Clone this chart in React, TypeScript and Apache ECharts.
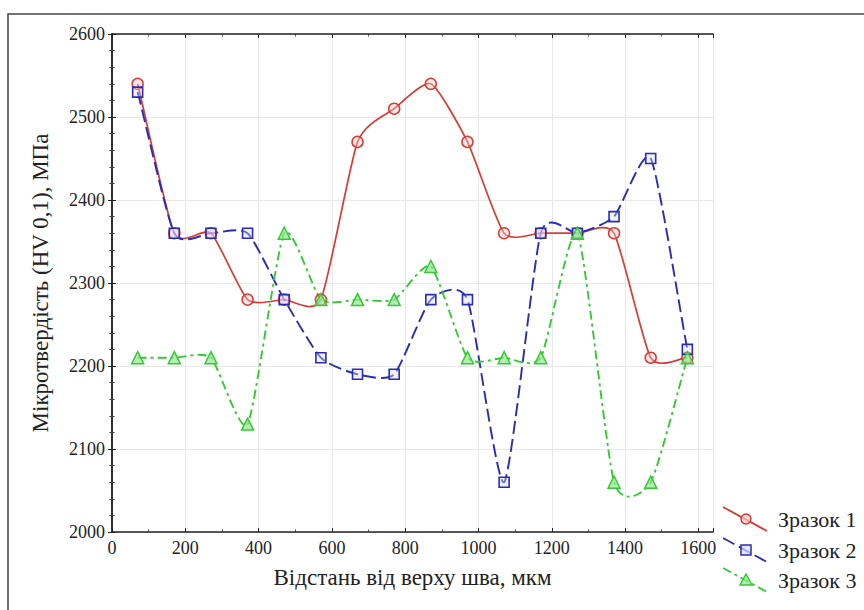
import React, { useEffect, useRef } from "react";
import * as echarts from "echarts";

const distances = [70, 170, 270, 370, 470, 570, 670, 770, 870, 970, 1070, 1170, 1270, 1370, 1470, 1570];
const sample1 = [2540, 2360, 2360, 2280, 2280, 2280, 2470, 2510, 2540, 2470, 2360, 2360, 2360, 2360, 2210, 2210];
const sample2 = [2530, 2360, 2360, 2360, 2280, 2210, 2190, 2190, 2280, 2280, 2060, 2360, 2360, 2380, 2450, 2220];
const sample3 = [2210, 2210, 2210, 2130, 2360, 2280, 2280, 2280, 2320, 2210, 2210, 2210, 2360, 2060, 2060, 2210];
const seriesNames = ["Зразок 1", "Зразок 2", "Зразок 3"];

const RED = "#d63c36";
const BLUE = "#2a2eae";
const GREEN = "#36c836";
const FONT = "'Liberation Serif', 'Times New Roman', serif";
const TENSION = 0.6;

function splineRenderer(ys: number[], stroke: string, width: number, dash: number[] | null) {
  return (params: any, api: any) => {
    if (params.dataIndex !== 0) return { type: "group", children: [] };
    const pts = distances.map((x, i) => api.coord([x, ys[i]]));
    const n = pts.length;
    const tang = pts.map((p, i) => {
      const a = pts[Math.max(0, i - 1)];
      const b = pts[Math.min(n - 1, i + 1)];
      const f = i === 0 || i === n - 1 ? 1 : 0.5;
      return [(b[0] - a[0]) * f * TENSION, (b[1] - a[1]) * f * TENSION];
    });
    let d = `M${pts[0][0]},${pts[0][1]}`;
    for (let i = 0; i < n - 1; i++) {
      const p0 = pts[i], p1 = pts[i + 1];
      const c1 = [p0[0] + tang[i][0] / 3, p0[1] + tang[i][1] / 3];
      const c2 = [p1[0] - tang[i + 1][0] / 3, p1[1] - tang[i + 1][1] / 3];
      d += ` C${c1[0]},${c1[1]} ${c2[0]},${c2[1]} ${p1[0]},${p1[1]}`;
    }
    return {
      type: "path",
      shape: { pathData: d },
      style: { stroke, fill: "none", lineWidth: width, lineDash: dash || undefined },
      silent: true,
    };
  };
}

export default function App() {
  const ref = useRef<HTMLDivElement>(null);
  useEffect(() => {
    if (!ref.current) return;
    const chart = echarts.init(ref.current, undefined, { renderer: "svg" });
    const pair = (ys: number[]) => distances.map((x, i) => [x, ys[i]]);
    const axisCommon = {
      axisLine: { show: true, lineStyle: { color: "#222", width: 1.5 } },
      axisTick: { show: true, inside: true, length: 4, lineStyle: { color: "#222" } },
      minorTick: { show: true, length: 2.5, lineStyle: { color: "#444" } },
    };
    const legendY = [519, 550, 580];
    const legendGraphics: any[] = [];
    const colors = [RED, BLUE, GREEN];
    const dashes: any[] = [null, [13, 5], [9, 4, 3, 4]];
    for (let i = 0; i < 3; i++) {
      const cy = legendY[i];
      legendGraphics.push({
        type: "line",
        shape: { x1: 723, y1: cy - 12, x2: 767, y2: cy + 12 },
        style: { stroke: colors[i], lineWidth: 1.8, lineDash: dashes[i] || undefined },
        z: 10,
      });
      const mx = 746, my = cy;
      if (i === 0) {
        legendGraphics.push({ type: "circle", shape: { cx: mx, cy: my, r: 5 }, style: { fill: "rgba(255,200,200,0.7)", stroke: RED, lineWidth: 1.5 }, z: 11 });
      } else if (i === 1) {
        legendGraphics.push({ type: "rect", shape: { x: mx - 5, y: my - 5, width: 10, height: 10 }, style: { fill: "rgba(220,220,255,0.7)", stroke: BLUE, lineWidth: 1.5 }, z: 11 });
      } else {
        legendGraphics.push({ type: "polygon", shape: { points: [[mx, my - 6], [mx + 6, my + 5], [mx - 6, my + 5]] }, style: { fill: "rgba(150,230,150,0.8)", stroke: GREEN, lineWidth: 1.5 }, z: 11 });
      }
      legendGraphics.push({
        type: "text",
        x: 778,
        y: cy,
        style: { text: seriesNames[i], fontFamily: FONT, fontSize: 22, fill: "#222", verticalAlign: "middle", align: "left" },
        z: 11,
      });
    }
    const labelStyle = { fontFamily: FONT, fontSize: 18, color: "#222", formatter: (v: number) => String(v) };
    chart.setOption({
      animation: false,
      backgroundColor: "#fff",
      textStyle: { fontFamily: FONT },
      grid: { left: 112, top: 34, right: 151, bottom: 78, containLabel: false },
      xAxis: [
        {
          type: "value", min: 0, max: 1640, interval: 200, position: "bottom",
          ...axisCommon,
          minorTick: { ...axisCommon.minorTick, splitNumber: 2 },
          axisLabel: { ...labelStyle, showMaxLabel: false, margin: 7 },
          splitLine: { show: true, lineStyle: { color: "#e8e8e8", width: 1 } },
          name: "Відстань від верху шва, мкм",
          nameLocation: "middle", nameGap: 34,
          nameTextStyle: { fontFamily: FONT, fontSize: 23, color: "#222" },
        },
        {
          type: "value", min: 0, max: 1640, interval: 200, position: "top",
          ...axisCommon,
          minorTick: { ...axisCommon.minorTick, splitNumber: 2 },
          axisLabel: { show: false },
          splitLine: { show: false },
        },
      ],
      yAxis: [
        {
          type: "value", min: 2000, max: 2600, interval: 100, position: "left",
          ...axisCommon,
          minorTick: { ...axisCommon.minorTick, splitNumber: 5 },
          axisLabel: { ...labelStyle, margin: 7 },
          splitLine: { show: true, lineStyle: { color: "#e8e8e8", width: 1 } },
          name: "Мікротвердість (HV 0,1), МПа",
          nameLocation: "middle", nameGap: 60, nameRotate: 90,
          nameTextStyle: { fontFamily: FONT, fontSize: 23, color: "#222" },
        },
        {
          type: "value", min: 2000, max: 2600, interval: 100, position: "right",
          ...axisCommon,
          minorTick: { ...axisCommon.minorTick, splitNumber: 5 },
          axisLabel: { show: false },
          splitLine: { show: false },
        },
      ],
      series: [
        {
          name: seriesNames[0] + " curve", type: "custom", data: pair(sample1),
          encode: { x: 0, y: 1 }, renderItem: splineRenderer(sample1, RED, 1.7, null), z: 3,
        },
        {
          name: seriesNames[1] + " curve", type: "custom", data: pair(sample2),
          encode: { x: 0, y: 1 }, renderItem: splineRenderer(sample2, BLUE, 1.9, [13, 5]), z: 4,
        },
        {
          name: seriesNames[2] + " curve", type: "custom", data: pair(sample3),
          encode: { x: 0, y: 1 }, renderItem: splineRenderer(sample3, GREEN, 1.9, [9, 4, 3, 4]), z: 5,
        },
        {
          name: seriesNames[0], type: "scatter", data: pair(sample1),
          symbol: "circle", symbolSize: 11,
          itemStyle: { color: "rgba(255,200,200,0.4)", borderColor: RED, borderWidth: 1.5, opacity: 1 },
          z: 6,
        },
        {
          name: seriesNames[1], type: "scatter", data: pair(sample2),
          symbol: "rect", symbolSize: 10,
          itemStyle: { color: "rgba(220,220,255,0.4)", borderColor: BLUE, borderWidth: 1.6, opacity: 1 },
          z: 7,
        },
        {
          name: seriesNames[2], type: "scatter", data: pair(sample3),
          symbol: "triangle", symbolSize: 12,
          itemStyle: { color: "rgba(150,230,150,0.7)", borderColor: GREEN, borderWidth: 1.5, opacity: 1 },
          z: 8,
        },
      ],
      graphic: [
        {
          type: "rect",
          shape: { x: 8, y: 14, width: 900, height: 700 },
          style: { fill: "none", stroke: "#444", lineWidth: 1.5 },
          z: 0,
          silent: true,
        },
        ...legendGraphics,
      ],
    });
    return () => chart.dispose();
  }, []);
  return <div ref={ref} style={{ position: "fixed", left: 0, top: 0, width: 864, height: 610 }} />;
}
